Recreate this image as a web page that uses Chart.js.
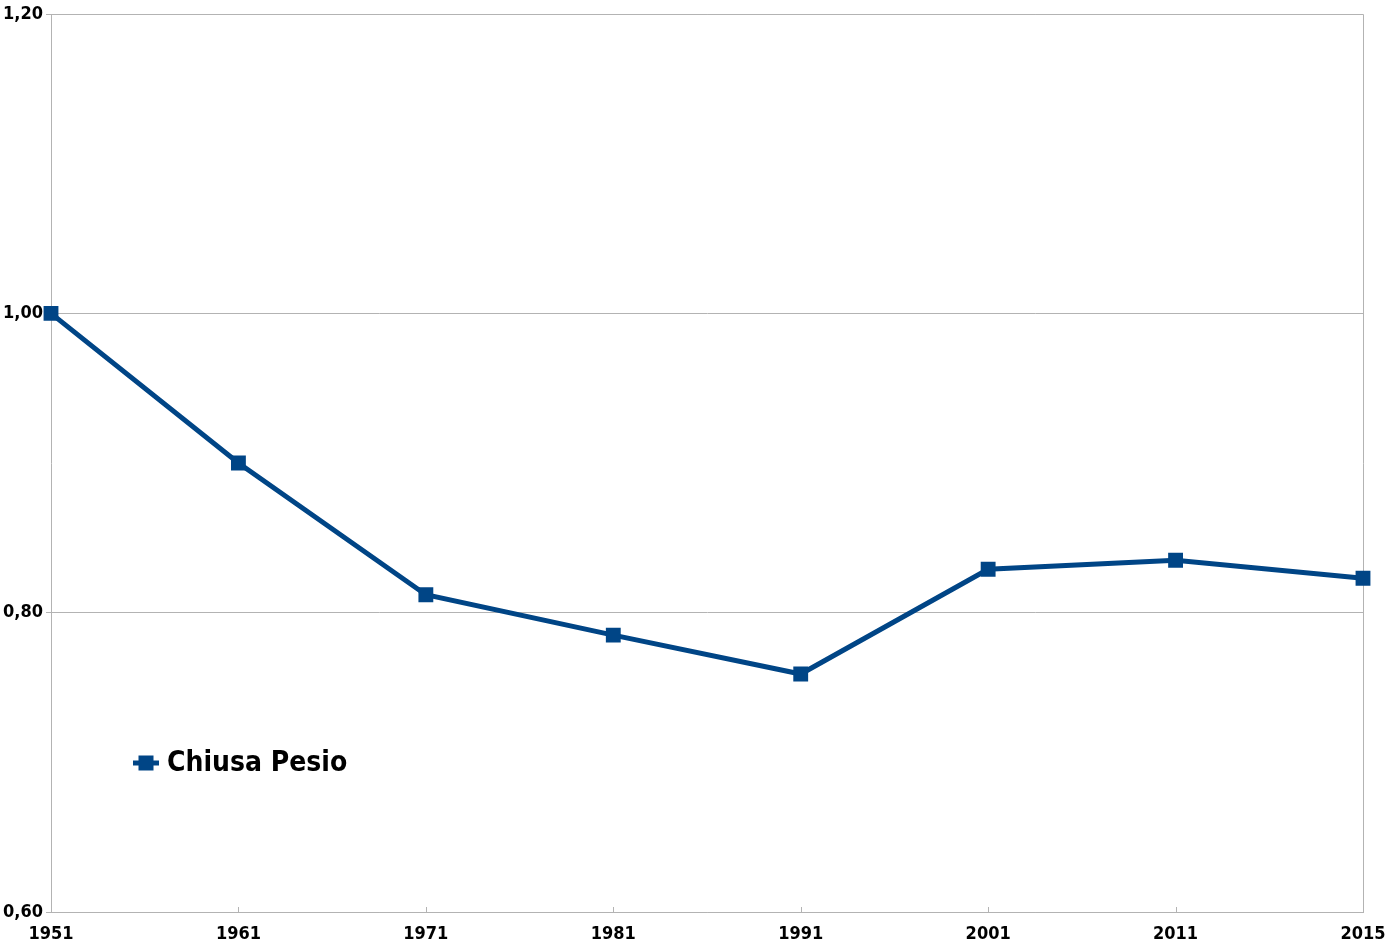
<!DOCTYPE html>
<html>
<head>
<meta charset="utf-8">
<script src="https://cdn.jsdelivr.net/npm/chart.js@4/dist/chart.umd.min.js"></script>
<style>
html,body{margin:0;padding:0;background:#fff;}
#wrap{width:1385px;height:947px;position:relative;}
</style>
</head>
<body>
<div id="wrap"><canvas id="c" width="1385" height="947"></canvas></div>
<script>
const categories = ["1951","1961","1971","1981","1991","2001","2011","2015"];
const seriesName = "Chiusa Pesio";
const values = [1.000, 0.900, 0.812, 0.785, 0.759, 0.829, 0.835, 0.823];
const yTicks = [0.60, 0.80, 1.00, 1.20];

const BLUE = "#004586";
const GRID = "#b3b3b3";
const FONT = "'DejaVu Sans Condensed','DejaVu Sans',sans-serif";

const framePlugin = {
  id: 'frame',
  beforeDatasetsDraw(chart) {
    const {ctx, chartArea: a, scales} = chart;
    ctx.save();
    ctx.strokeStyle = GRID;
    ctx.lineWidth = 1;
    ctx.beginPath();
    ctx.moveTo(a.left, a.top + 0.5); ctx.lineTo(a.right + 0.5, a.top + 0.5);
    ctx.lineTo(a.right + 0.5, a.bottom);
    ctx.stroke();
    const xs = scales.x;
    ctx.beginPath();
    for (let i = 0; i < categories.length; i++) {
      const px = Math.round(xs.getPixelForTick(i)) + 0.5;
      ctx.moveTo(px, a.bottom); ctx.lineTo(px, a.bottom - 5);
    }
    ctx.stroke();
    ctx.restore();
  },
  afterDraw(chart) {
    const {ctx} = chart;
    const ds = chart.data.datasets[0];
    const x0 = 133, x1 = 159, y = 763;
    ctx.save();
    ctx.strokeStyle = ds.borderColor;
    ctx.lineWidth = 5;
    ctx.beginPath(); ctx.moveTo(x0, y); ctx.lineTo(x1, y); ctx.stroke();
    ctx.fillStyle = ds.borderColor;
    ctx.fillRect((x0 + x1) / 2 - 7.5, y - 7.5, 15, 15);
    ctx.fillStyle = "#000";
    ctx.font = "bold 28px " + FONT;
    ctx.textBaseline = "middle";
    ctx.textAlign = "left";
    ctx.fillText(ds.label, 167, y + 1);
    ctx.restore();
  }
};

new Chart(document.getElementById('c'), {
  type: 'line',
  data: {
    labels: categories,
    datasets: [{
      label: seriesName,
      data: values,
      borderColor: BLUE,
      backgroundColor: BLUE,
      borderWidth: 5,
      pointStyle: 'rect',
      pointRadius: 10.5,
      pointHoverRadius: 10.5,
      pointBorderWidth: 0,
      pointBackgroundColor: BLUE,
      tension: 0,
      fill: false
    }]
  },
  options: {
    responsive: false,
    animation: false,
    devicePixelRatio: 1,
    layout: {padding: {top: 14, right: 22, left: 0, bottom: 0}},
    plugins: {legend: {display: false}, tooltip: {enabled: false}},
    scales: {
      x: {
        type: 'category',
        offset: false,
        grid: {display: false, drawTicks: false},
        border: {display: true, color: GRID, width: 1},
        ticks: {
          color: '#000',
          font: {family: FONT, size: 18, weight: 'bold'},
          padding: 12,
          maxRotation: 0,
          autoSkip: false
        },
        afterFit(s) { s.height = 35; s.paddingRight = 0; s.paddingLeft = 0; }
      },
      y: {
        min: 0.6, max: 1.2,
        afterBuildTicks(s) { s.ticks = yTicks.map(v => ({value: v})); },
        grid: {color: GRID, lineWidth: 1, drawTicks: true, tickLength: 5},
        border: {display: true, color: GRID, width: 1},
        ticks: {
          color: '#000',
          font: {family: FONT, size: 18, weight: 'bold'},
          padding: 3,
          callback: v => v.toFixed(2).replace('.', ',')
        },
        afterFit(s) { s.width = 51; s.paddingTop = 0; s.paddingBottom = 0; }
      }
    }
  },
  plugins: [framePlugin]
});
</script>
</body>
</html>
